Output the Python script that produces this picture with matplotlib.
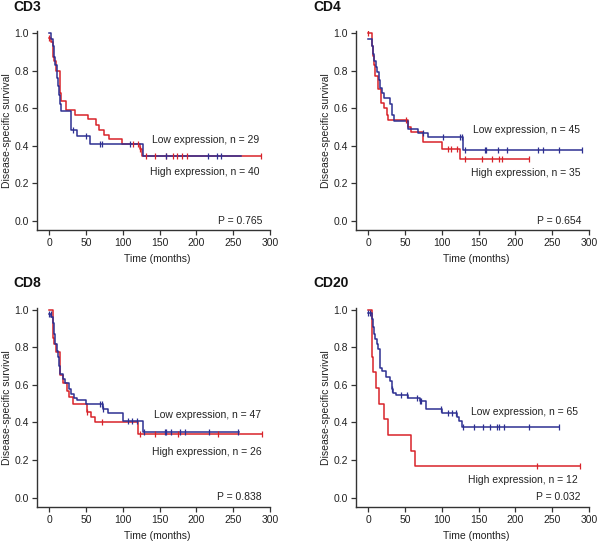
import numpy as np
import matplotlib
matplotlib.use("Agg")
import matplotlib.pyplot as plt

plt.rcParams['font.family'] = ['Liberation Sans', 'DejaVu Sans']

RED = '#d8232a'
BLUE = '#2e3092'
INK = '#222222'
FS = 7.5

panel_titles = ["CD3", "CD4", "CD8", "CD20"]
low_labels = ["Low expression, n = 29", "Low expression, n = 45",
              "Low expression, n = 47", "Low expression, n = 65"]
high_labels = ["High expression, n = 40", "High expression, n = 35",
               "High expression, n = 26", "High expression, n = 12"]
p_labels = ["P = 0.765", "P = 0.654", "P = 0.838", "P = 0.032"]

# --- CD3 ---
cd3_high_t = [0, 3, 5, 7, 9, 14, 16, 23, 35, 52, 63, 67, 75, 81, 99, 123, 126]
cd3_high_s = [0.975, 0.95, 0.87, 0.85, 0.80, 0.68, 0.64, 0.59, 0.565, 0.54, 0.51, 0.485, 0.46, 0.435, 0.41, 0.385, 0.345]
cd3_high_cens = [0, 114, 120, 123, 132, 144, 159, 168, 174, 180, 187, 288]
cd3_high_end = 288
cd3_low_t = [0, 3, 5, 6, 8, 10, 12, 13, 14, 16, 29, 30, 37, 55, 127]
cd3_low_s = [1.0, 0.97, 0.93, 0.87, 0.83, 0.76, 0.72, 0.67, 0.62, 0.585, 0.53, 0.485, 0.45, 0.41, 0.345]
cd3_low_cens = [32, 50, 69, 71, 110, 159, 216, 228, 234]
cd3_low_end = 260

# --- CD4 ---
cd4_high_t = [0, 5, 6, 8, 9, 13.5, 17, 22, 25, 27, 54, 58, 75, 100, 125]
cd4_high_s = [1.0, 0.93, 0.88, 0.83, 0.77, 0.70, 0.63, 0.60, 0.565, 0.535, 0.50, 0.475, 0.42, 0.385, 0.33]
cd4_high_cens = [0, 51, 109, 113, 120, 132, 155, 168, 178, 182, 219]
cd4_high_end = 219
cd4_low_t = [0, 5, 6, 8, 10, 12, 14, 16, 18, 22, 30, 32, 35, 54, 68, 81, 129]
cd4_low_s = [0.97, 0.93, 0.89, 0.85, 0.82, 0.79, 0.75, 0.71, 0.68, 0.655, 0.62, 0.565, 0.53, 0.49, 0.466, 0.445, 0.375]
cd4_low_cens = [75, 101, 125, 127, 132, 159, 160, 176, 188, 231, 237, 259, 290]
cd4_low_end = 290

# --- CD8 ---
cd8_high_t = [0, 4.5, 5.5, 7, 9, 14, 19, 24, 27, 32, 51, 57, 62, 121]
cd8_high_s = [1.0, 0.95, 0.85, 0.82, 0.775, 0.65, 0.61, 0.57, 0.536, 0.50, 0.456, 0.43, 0.405, 0.34]
cd8_high_cens = [51, 72, 123, 144, 175, 229, 289]
cd8_high_end = 289
cd8_low_t = [0, 3, 5, 6, 8, 10, 12, 13, 15, 19, 22, 27, 30, 34, 38, 50, 73, 80, 100, 127]
cd8_low_s = [0.975, 0.96, 0.93, 0.87, 0.82, 0.78, 0.75, 0.70, 0.66, 0.63, 0.61, 0.58, 0.55, 0.53, 0.52, 0.50, 0.47, 0.45, 0.41, 0.35]
cd8_low_cens = [0, 2, 69, 71, 73, 107, 113, 119, 129, 157, 158, 166, 178, 184, 217, 257]
cd8_low_end = 258

# --- CD20 ---
cd20_high_t = [0, 5.5, 7, 10.5, 14.5, 21.5, 27, 57.5, 63.5]
cd20_high_s = [1.0, 0.75, 0.667, 0.583, 0.5, 0.417, 0.333, 0.25, 0.167]
cd20_high_cens = [229, 288]
cd20_high_end = 288
cd20_low_t = [0, 4.6, 6, 7.7, 9.5, 11.4, 13.6, 15.5, 18, 24, 29.5, 31.7, 34, 37.6, 54.3, 70, 79, 99.6, 120, 123, 127]
cd20_low_s = [0.985, 0.95, 0.91, 0.87, 0.845, 0.82, 0.79, 0.69, 0.675, 0.64, 0.62, 0.58, 0.555, 0.545, 0.528, 0.513, 0.474, 0.451, 0.43, 0.41, 0.377]
cd20_low_cens = [0, 2, 32, 45, 52, 66, 70, 72, 99, 109, 114, 119, 129, 144, 156, 166, 175, 178, 184, 218, 259]
cd20_low_end = 259

# label positions (data coords): x of right edge, y of low/high text
label_x = [286, 288, 288, 285]
low_y = [0.43, 0.484, 0.44, 0.457]
high_y = [0.26, 0.254, 0.245, 0.094]

curves = [
    (cd3_high_t, cd3_high_s, cd3_high_cens, cd3_high_end, cd3_low_t, cd3_low_s, cd3_low_cens, cd3_low_end),
    (cd4_high_t, cd4_high_s, cd4_high_cens, cd4_high_end, cd4_low_t, cd4_low_s, cd4_low_cens, cd4_low_end),
    (cd8_high_t, cd8_high_s, cd8_high_cens, cd8_high_end, cd8_low_t, cd8_low_s, cd8_low_cens, cd8_low_end),
    (cd20_high_t, cd20_high_s, cd20_high_cens, cd20_high_end, cd20_low_t, cd20_low_s, cd20_low_cens, cd20_low_end),
]


def draw_km(ax, t, s, cens, end, color):
    t = np.array(t + [end], dtype=float)
    s = np.array(s + [s[-1]], dtype=float)
    ax.step(t, s, where='post', color=color, lw=1.1, zorder=3)
    # censor marks sit on the curve
    idx = np.searchsorted(t, cens, side='right') - 1
    ax.plot(cens, s[idx], ls='none', marker='|', ms=5, mew=0.9, color=color, zorder=4)


fig = plt.figure(figsize=(6.0, 5.42), dpi=100)

# axes rectangles in figure fraction
lefts = [0.0613, 0.593, 0.0613, 0.593]
bottoms = [0.5749, 0.5749, 0.0644, 0.0644]
w, h = 0.3887, 0.3677
title_pos = [(13, 7), (313, 7), (13, 283), (313, 283)]

for i in range(4):
    ax = fig.add_axes([lefts[i], bottoms[i], w, h])
    ht, hs, hc, he, lt, ls_, lc, le = curves[i]
    draw_km(ax, ht, hs, hc, he, RED)
    draw_km(ax, lt, ls_, lc, le, BLUE)

    ax.set_xlim(-17, 300)
    ax.set_ylim(-0.05, 1.01)
    ax.set_xticks([0, 50, 100, 150, 200, 250, 300])
    ax.set_yticks([0.0, 0.2, 0.4, 0.6, 0.8, 1.0])
    ax.set_yticklabels(["0.0", "0.2", "0.4", "0.6", "0.8", "1.0"])
    for side in ['top', 'right']:
        ax.spines[side].set_visible(False)
    for side in ['left', 'bottom']:
        ax.spines[side].set_color('#333333')
        ax.spines[side].set_linewidth(1.0)
    ax.tick_params(length=3.5, width=0.9, color='#333333', labelsize=FS, labelcolor=INK, pad=2)

    ax.set_xlabel("Time (months)", fontsize=FS, color=INK)
    ax.xaxis.set_label_coords(0.515, -0.118)
    ax.set_ylabel("Disease-specific survival", fontsize=FS, color=INK)
    ax.yaxis.set_label_coords(-0.105, 0.5)

    ax.text(label_x[i], low_y[i], low_labels[i], ha='right', va='center', fontsize=FS, color=INK)
    ax.text(label_x[i], high_y[i], high_labels[i], ha='right', va='center', fontsize=FS, color=INK)
    ax.text(289, 0.002, p_labels[i], ha='right', va='center', fontsize=FS, color=INK)

    tx, ty = title_pos[i]
    fig.text(tx / 600, 1 - ty / 542, panel_titles[i], ha='left', va='center',
             fontsize=10, fontweight='bold', color='#111111')

fig.savefig("out.png", dpi=100)
